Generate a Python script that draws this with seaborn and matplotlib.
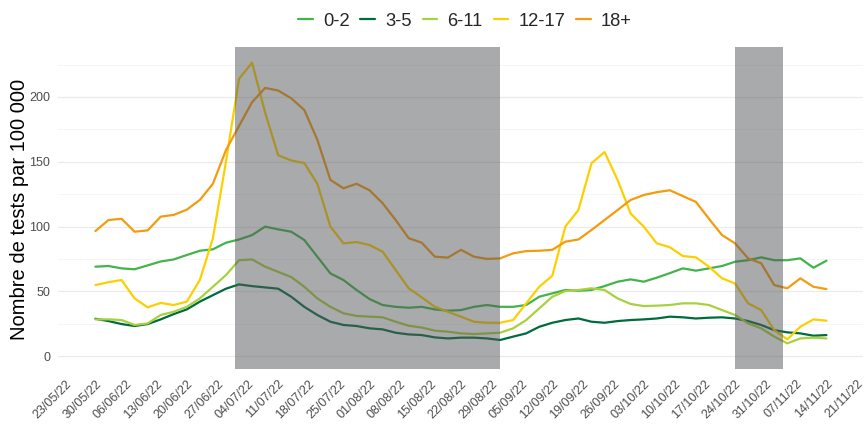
import numpy as np
import pandas as pd
import matplotlib
matplotlib.use("Agg")
import matplotlib.pyplot as plt
import matplotlib.dates as mdates
from matplotlib.ticker import MultipleLocator
import seaborn as sns

# Daily test rates sampled every 3 days, 30/05/22 -> 14/11/22
dates = pd.date_range("2022-05-30", "2022-11-14", freq="3D")
groups = ["0-2", "3-5", "6-11", "12-17", "18+"]

v_0_2 = [69, 69.5, 67.7, 67, 70, 73, 74.6, 78, 81.3, 82.4, 87.5, 90, 93.4, 99.9, 97.8,
         96, 89.6, 76.7, 63.8, 58.7, 51, 44, 39.4, 38, 37.3, 38, 36, 35, 35.5, 38,
         39.4, 38, 38, 39.4, 45.8, 48.4, 51, 50.4, 51, 54, 57.4, 59.2, 57.4, 60.5, 64,
         67.7, 65.9, 67.7, 69.5, 72.8, 74, 76.2, 74, 74, 75.4, 68.2, 73.6]
v_3_5 = [28.8, 27, 24.7, 23.2, 24.7, 28.3, 32.4, 36, 42, 47, 52, 55.3, 54, 53, 52,
         45.8, 38, 31.7, 26.5, 24, 23.2, 21.4, 20.6, 18, 16.7, 16.2, 14.4, 13.6, 14.2, 14.2,
         13.6, 12.4, 15, 17.5, 22.6, 25.7, 27.8, 29, 26.5, 25.7, 27, 27.8, 28.3, 29, 30.4,
         29.9, 29, 29.6, 29.9, 29, 27, 24, 20, 18.3, 17.5, 15.7, 16.2]
v_6_11 = [28.3, 28.3, 27.8, 24, 25.2, 31.7, 34.2, 38, 44.5, 53.5, 62.5, 74, 74.6, 69, 65,
          61, 53.5, 44.5, 38, 33, 31, 30.4, 29.9, 26.5, 23.4, 22, 19.6, 18.8, 17.5, 17,
          17.5, 18, 21.4, 27.8, 36.8, 45.8, 50.2, 51, 52.3, 51, 44.5, 40.2, 38.6, 38.9, 39.4,
          40.7, 40.7, 39.4, 35.5, 31.7, 25.2, 21.4, 15, 9.8, 13.6, 14.2, 13.6]
v_12_17 = [54.8, 57, 58.7, 44.5, 37.6, 41, 39.4, 42, 58.7, 91, 150, 214, 226.5, 188, 155,
           151, 149, 133, 100, 87, 88, 85.7, 80.6, 66.4, 52.3, 45.3, 38, 34.2, 30.4, 26.5,
           25.7, 25.7, 27.8, 40.7, 53.5, 62, 100, 112.7, 148.8, 157.5, 136, 110, 100, 87, 84,
           77.2, 76.2, 69, 60, 56, 40.7, 35.5, 20, 12.9, 22.6, 28.3, 27.3]
v_18 = [96.5, 105, 106, 96, 97, 107.6, 109, 113, 120.5, 133, 159, 177.6, 196, 207, 205,
        199, 190, 167, 136, 129.5, 133, 128, 118, 105, 91, 87.5, 76.7, 76, 82, 76.7,
        75, 75.4, 79.3, 81, 81.3, 82, 88.3, 90, 97.3, 105, 112.7, 120.5, 124.3, 126.5, 128,
        123.5, 119, 106, 93.4, 87, 75.4, 71.6, 54.8, 52.3, 60, 53.5, 51.7]

colors = ["#41B44A", "#006B3C", "#A8D13D", "#FCD000", "#F49B0F"]

# School holiday periods
holidays = [("2022-07-01", "2022-08-31"), ("2022-10-24", "2022-11-04")]

week_ticks = pd.date_range("2022-05-23", "2022-11-21", freq="7D")

df = pd.DataFrame({
    "date": np.tile(dates, len(groups)),
    "groupe": np.repeat(groups, len(dates)),
    "taux": np.concatenate([v_0_2, v_3_5, v_6_11, v_12_17, v_18]),
})

sns.set_theme(style="white")
plt.rcParams["font.family"] = ["Liberation Sans", "DejaVu Sans"]

W, H = 865, 425
fig = plt.figure(figsize=(W / 100, H / 100), dpi=100)
ax = fig.add_axes([58 / W, 1 - 369 / H, (863 - 58) / W, (369 - 47) / H])

sns.lineplot(data=df, x="date", y="taux", hue="groupe", hue_order=groups,
             palette=colors, linewidth=1.6, ax=ax, zorder=2)

for start, end in holidays:
    ax.axvspan(pd.Timestamp(start), pd.Timestamp(end), color="#555658",
               alpha=0.5, lw=0, zorder=3)

ax.set_xlim(dates[0] - pd.Timedelta(days=8.6), dates[-1] + pd.Timedelta(days=8.4))
ax.set_ylim(-10, 238.6)

ax.set_xticks(week_ticks)
ax.xaxis.set_major_formatter(mdates.DateFormatter("%d/%m/%y"))
ax.yaxis.set_major_locator(MultipleLocator(50))
ax.yaxis.set_minor_locator(MultipleLocator(25))

ax.grid(False)
ax.grid(which="major", axis="y", color="#EBEBEB", lw=0.9, zorder=0)
ax.grid(which="minor", axis="y", color="#F4F4F4", lw=0.6, zorder=0)
ax.set_axisbelow(True)

for s in ax.spines.values():
    s.set_visible(False)

ax.tick_params(axis="both", which="major", length=3.5, width=0.8, color="#333333",
               labelsize=9, labelcolor="#4D4D4D", pad=2)
ax.tick_params(axis="both", which="minor", length=0)
ax.tick_params(axis="x", pad=3)
for lab in ax.get_xticklabels():
    lab.set_rotation(45)
    lab.set_ha("right")
    lab.set_va("top")
    lab.set_rotation_mode("anchor")

ax.set_xlabel("")
ax.set_ylabel("")
fig.text(20 / W, 1 - 209.5 / H, "Nombre de tests par 100 000", rotation=90,
         ha="center", va="center", fontsize=14.5, color="black")

handles, labels = ax.get_legend_handles_labels()
ax.get_legend().remove()
fig.legend(handles, labels, loc="center", bbox_to_anchor=(465 / W, 1 - 21 / H),
           ncol=5, frameon=False, fontsize=13.2, handlelength=0.8,
           handletextpad=0.55, columnspacing=0.6)

fig.savefig("out.png", dpi=100)
